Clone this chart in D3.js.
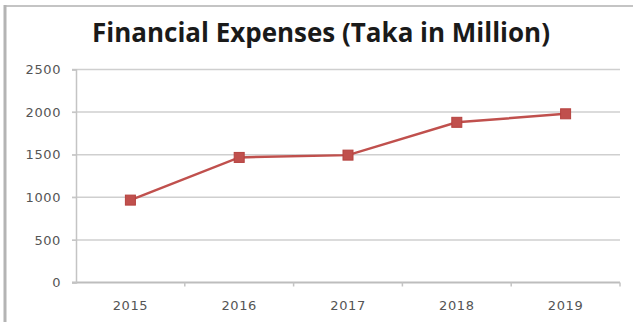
<!DOCTYPE html>
<html>
<head>
<meta charset="utf-8">
<script src="https://cdn.jsdelivr.net/npm/d3@7/dist/d3.min.js"></script>
<style>
  html, body { margin: 0; padding: 0; background: #fff; }
  svg { display: block; }
</style>
</head>
<body>
<svg id="chart" width="633" height="322"></svg>
<script>
// Financial expenses per year, Taka in million
const years = ["2015", "2016", "2017", "2018", "2019"];
const expenses = [967, 1468, 1495, 1880, 1980];
const yTicks = [0, 500, 1000, 1500, 2000, 2500];
const titleText = "Financial Expenses (Taka in Million)";

const svg = d3.select("#chart");
const W = 633, H = 322;
const plot = { left: 76, right: 620, top: 69.5, bottom: 282.5 };

// Outer frame: top and left edges
svg.append("line")
  .attr("x1", 4).attr("x2", W).attr("y1", 6).attr("y2", 6)
  .attr("stroke", "#c4c4c4").attr("stroke-width", 2);
svg.append("line")
  .attr("x1", 5).attr("x2", 5).attr("y1", 5).attr("y2", H)
  .attr("stroke", "#b4b4b4").attr("stroke-width", 3);

// Title, sized to span its line
const title = svg.append("text")
  .attr("x", 321).attr("y", 42)
  .attr("text-anchor", "middle")
  .attr("font-family", "'Open Sans', Lato, sans-serif")
  .attr("font-weight", "bold")
  .attr("font-size", 22)
  .attr("fill", "#1a1a1a")
  .text(titleText);
const tw = title.node().getComputedTextLength();
title.attr("font-size", 22 * 458 / tw);

const x = d3.scaleBand().domain(years).range([plot.left, plot.right]);
const y = d3.scaleLinear().domain([0, 2500]).range([plot.bottom, plot.top]);

// Horizontal gridlines
svg.append("g")
  .selectAll("line")
  .data(yTicks)
  .join("line")
  .attr("x1", plot.left - 4).attr("x2", plot.right)
  .attr("y1", d => y(d)).attr("y2", d => y(d))
  .attr("stroke", d => d === 0 ? "#bdbdbd" : "#cfcfcf")
  .attr("stroke-width", d => d === 0 ? 2 : 1.5);

// Y axis
const yAxis = svg.append("g")
  .attr("transform", `translate(${plot.left},0)`)
  .call(d3.axisLeft(y).tickValues(yTicks).tickFormat(d3.format("d")).tickSize(4).tickPadding(11));
yAxis.select(".domain").attr("stroke", "#c4c4c4").attr("stroke-width", 1.5);
yAxis.selectAll(".tick line").attr("stroke", "#c4c4c4");
yAxis.selectAll("text")
  .attr("font-family", "'DejaVu Sans', Verdana, sans-serif")
  .attr("font-size", 13)
  .attr("letter-spacing", 0.6)
  .attr("fill", "#555");

// X axis with ticks at category boundaries
const xAxis = svg.append("g")
  .attr("transform", `translate(0,${plot.bottom})`)
  .call(d3.axisBottom(x).tickSize(0).tickPadding(18));
xAxis.select(".domain").remove();
xAxis.selectAll("text")
  .attr("font-family", "'DejaVu Sans', Verdana, sans-serif")
  .attr("font-size", 13)
  .attr("letter-spacing", 0.6)
  .attr("fill", "#555");
svg.append("g")
  .selectAll("line")
  .data(years.slice(1).concat(["end"]))
  .join("line")
  .attr("x1", d => d === "end" ? plot.right : x(d))
  .attr("x2", d => d === "end" ? plot.right : x(d))
  .attr("y1", plot.bottom).attr("y2", plot.bottom + 4)
  .attr("stroke", "#c4c4c4").attr("stroke-width", 1.5);

// Series line and square markers
const pts = years.map((yr, i) => ({ yr, v: expenses[i] }));
const cx = d => x(d.yr) + x.bandwidth() / 2;

svg.append("path")
  .datum(pts)
  .attr("fill", "none")
  .attr("stroke", "#c0504d")
  .attr("stroke-width", 2.5)
  .attr("d", d3.line().x(cx).y(d => y(d.v)));

const ms = 10;
svg.append("g")
  .selectAll("rect")
  .data(pts)
  .join("rect")
  .attr("x", d => cx(d) - ms / 2)
  .attr("y", d => y(d.v) - ms / 2)
  .attr("width", ms).attr("height", ms)
  .attr("fill", "#c0504d")
  .attr("stroke", "#b5423f")
  .attr("stroke-width", 1);
</script>
</body>
</html>
